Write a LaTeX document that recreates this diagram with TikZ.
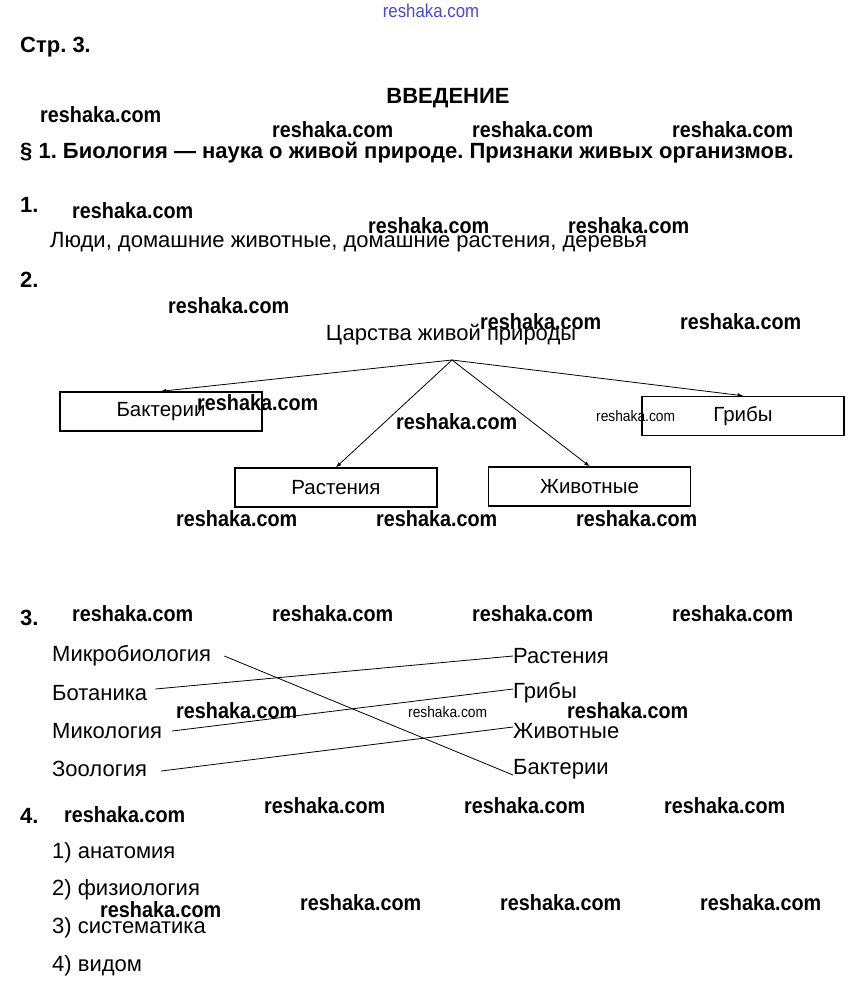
\documentclass[tikz,border=0pt]{standalone}
\usepackage{fontspec}
\setmainfont{Liberation Sans}
\newfontfamily\wmfont{Liberation Sans}[FakeStretch=0.9]
\usetikzlibrary{arrows}
\frenchspacing

\definecolor{wmblue}{RGB}{70,70,225}

\begin{document}
\begin{tikzpicture}[x=1pt, y=-1pt,
  txt/.style={anchor=west, inner sep=0pt, font=\fontsize{22}{26}\selectfont},
  hd/.style={anchor=west, inner sep=0pt, font=\fontsize{22}{26}\selectfont\bfseries},
  wm/.style={anchor=west, inner sep=0pt, font=\wmfont\fontsize{22}{26}\selectfont\bfseries},
  wmsmall/.style={anchor=west, inner sep=0pt, font=\wmfont\fontsize{15.3}{18}\selectfont},
  box/.style={draw, line width=1.5pt, minimum width=202pt, minimum height=39pt, font=\fontsize{20.5}{24}\selectfont},
  arr/.style={-latex, line width=0.8pt},
  ln/.style={line width=0.8pt}]
\useasboundingbox (0,0) rectangle (860,1003);

% headings
\node[hd] (str) at (20,47) {Стр. 3.};
\node[hd, anchor=center] (intro) at (448,98) {ВВЕДЕНИЕ};
\node[hd] (par1) at (20,153) {§ 1. Биология — наука о живой природе. Признаки живых организмов.};

% 1
\node[hd] (n1) at (20,205) {1.};
\node[txt] (ans1) at (50,242) {Люди, домашние животные, домашние растения, деревья};

% 2
\node[hd] (n2) at (20,280) {2.};
\node[txt, anchor=center] (tsar) at (451,335) {Царства живой природы};
\coordinate (top) at (452,360);
\node[box] (bact) at (161,411.5) {Бактерии};
\node[box] (rast) at (336,487.5) {Растения};
\node[box] (zhiv) at (589.5,486.5) {Животные};
\node[box] (grib) at (743,416) {Грибы};
\draw[arr] (top) -- (bact.north);
\draw[arr] (top) -- (rast.north);
\draw[arr] (top) -- (zhiv.north);
\draw[arr] (top) -- (grib.north);

% 3
\node[hd] (n3) at (20,618) {3.};
\node[txt] (mikrob) at (52,656) {Микробиология};
\node[txt] (botan) at (52,693) {Ботаника};
\node[txt] (mikol) at (52,731) {Микология};
\node[txt] (zool) at (52,769) {Зоология};
\node[txt] (rr) at (513,656) {Растения};
\node[txt] (rg) at (513,693) {Грибы};
\node[txt] (rz) at (513,731) {Животные};
\node[txt] (rb) at (513,769) {Бактерии};
\draw[ln] ([xshift=13pt]mikrob.east) -- ([yshift=-6pt]rb.west);
\draw[ln] ([xshift=8pt, yshift=4pt]botan.east) -- (rr.west);
\draw[ln] ([xshift=10pt]mikol.east) -- ([yshift=4pt]rg.west);
\draw[ln] ([xshift=14pt, yshift=-2pt]zool.east) -- ([yshift=4pt]rz.west);

% 4
\node[hd] (n4) at (20,816) {4.};
\node[txt] (a1) at (52,853) {1) анатомия};
\node[txt] (a2) at (52,890) {2) физиология};
\node[txt] (a3) at (52,928) {3) систематика};
\node[txt] (a4) at (52,966) {4) видом};

% watermarks
\node[wmsmall, anchor=center, text=wmblue, font=\wmfont\fontsize{18.7}{22}\selectfont] (wm0) at (431,11) {reshaka.com};
\foreach \i/\x/\y in {1/40/115, 2/272/130, 3/472/130, 4/672/130, 5/72/211,
  6/368/226, 7/568/226, 8/168/306, 9/480/322, 10/680/322, 11/197/403,
  12/396/422, 13/176/519, 14/376/519, 15/576/519, 16/72/614, 17/272/614,
  18/472/614, 19/672/614, 20/176/711, 21/567/711, 22/64/815, 23/264/806,
  24/464/806, 25/664/806, 26/300/903, 27/500/903, 28/700/903, 29/100/910}
  \node[wm] (wm\i) at (\x,\y) {reshaka.com};
\node[wmsmall] (wms1) at (596,416) {reshaka.com};
\node[wmsmall] (wms2) at (408,712) {reshaka.com};
\end{tikzpicture}
\end{document}
